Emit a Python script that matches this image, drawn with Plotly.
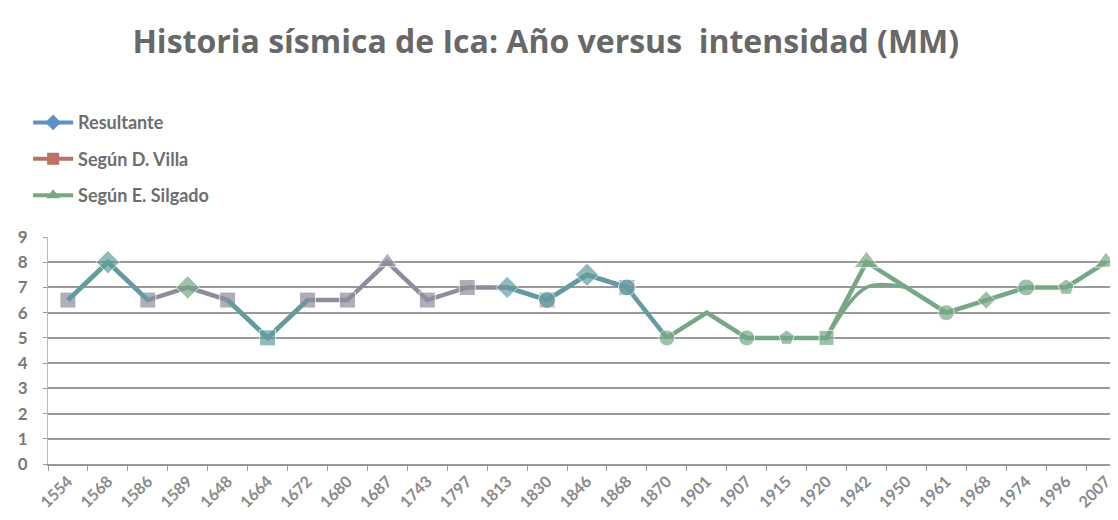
import plotly.graph_objects as go

years = ["1554", "1568", "1586", "1589", "1648", "1664", "1672", "1680", "1687", "1743",
         "1797", "1813", "1830", "1846", "1868", "1870", "1901", "1907", "1915", "1920",
         "1942", "1950", "1961", "1968", "1974", "1996", "2007"]
N = None
# Según D. Villa (early record)
villa = [6.5, 8, 6.5, 7, 6.5, 5, 6.5, 6.5, 8, 6.5, 7, 7, 6.5, 7.5, 7,
         N, N, N, N, N, N, N, N, N, N, N, N]
# Resultante (segments visible in the picture)
resultante = [6.5, 8, 6.5, N, 6.5, 5, 6.5, N, N, N, N, 7, 6.5, 7.5, 7, 5,
              N, N, N, N, N, N, N, N, N, N, N]
# Según E. Silgado
silgado = [N, N, N, 7, N, N, N, N, N, N, N, N, N, N, N,
           5, 6, 5, 5, 5, 8, 7, 6, 6.5, 7, 7, 8]
silgado_alt = [N] * 19 + [5, 7, 7] + [N] * 5
y_ticks = [0, 1, 2, 3, 4, 5, 6, 7, 8, 9]

c_res, c_vil, c_sil = "#629ca0", "#8c8d9d", "#76a886"
leg_res, leg_vil, leg_sil = "#5b93c6", "#bb7264", "#7aaa7c"

villa_sym = ["square", "diamond", "square", "diamond", "square", "square", "square", "square",
             "triangle-up", "square", "square", "diamond", "square", "diamond", "square"] + ["square"] * 12
villa_size = [16, 0, 16, 0, 16, 0, 16, 16, 18, 16, 16, 0, 16, 0, 16] + [0] * 12
res_sym = ["diamond", "diamond", "diamond", "diamond", "diamond", "square", "diamond"] + ["diamond"] * 4 + \
          ["diamond", "circle", "diamond", "circle", "circle"] + ["diamond"] * 11
res_size = [0, 18, 0, 0, 0, 16, 0, 0, 0, 0, 0, 17, 17, 18, 17, 0] + [0] * 11
sil_sym = ["diamond"] * 15 + ["circle", "triangle-up", "circle", "pentagon", "square", "triangle-up",
                              "circle", "circle", "diamond", "circle", "pentagon", "triangle-up"]
sil_size = [0, 0, 0, 18, 0, 0, 0, 0, 0, 0, 0, 0, 0, 0, 0,
            16, 0, 16, 16, 15, 22, 0, 16, 14, 17, 17, 20]

fig = go.Figure()
fig.add_trace(go.Scatter(x=years, y=villa, mode="lines+markers", showlegend=False,
                         line=dict(color=c_vil, width=4.5),
                         marker=dict(symbol=villa_sym, size=villa_size, color=c_vil)))
fig.add_trace(go.Scatter(x=years, y=resultante, mode="lines+markers", showlegend=False,
                         line=dict(color=c_res, width=4.5),
                         marker=dict(symbol=res_sym, size=res_size, color=c_res)))
fig.add_trace(go.Scatter(x=years, y=silgado_alt, mode="lines", showlegend=False,
                         line=dict(color=c_sil, width=3.5, shape="spline")))
fig.add_trace(go.Scatter(x=years, y=silgado, mode="lines+markers", showlegend=False,
                         line=dict(color=c_sil, width=4.5),
                         marker=dict(symbol=sil_sym, size=sil_size, color=c_sil)))

# legend entries
for name, col, sym, grp in [("<b>Resultante</b>", leg_res, "diamond", "a"),
                            ("<b>Según D. Villa</b>", leg_vil, "square", "b"),
                            ("<b>Según E. Silgado</b>", leg_sil, "triangle-up", "c")]:
    fig.add_trace(go.Scatter(x=[None], y=[None], mode="lines+markers", name=name, legendgroup=grp,
                             line=dict(color=col, width=4), marker=dict(symbol=sym, size=12, color=col)))

fig.update_layout(
    width=1118, height=520,
    paper_bgcolor="white", plot_bgcolor="white",
    margin=dict(l=40, r=0, t=229, b=64, autoexpand=False),
    title=dict(text="<b>Historia sísmica de Ica: Año versus  intensidad (MM)</b>",
               x=0.481, xanchor="center", y=0.935, yanchor="middle",
               font=dict(family="Open Sans, Lato, sans-serif", size=32, color="#686868")),
    legend=dict(xref="container", yref="container", x=0.018, y=0.815, xanchor="left", yanchor="top",
                font=dict(family="Lato, Open Sans, sans-serif", size=18, color="#6e6e6e"),
                tracegroupgap=10, bgcolor="rgba(0,0,0,0)", itemwidth=40),
    font=dict(family="Lato, Open Sans, sans-serif"),
)
fig.update_xaxes(type="category", range=[-0.5, 26.5], tickangle=-45, tickson="boundaries",
                 ticks="outside", ticklen=5, tickcolor="#999999", showline=True, linecolor="#999999",
                 linewidth=1.5, showgrid=False,
                 tickprefix="<b>", ticksuffix="</b>",
                 tickfont=dict(family="Lato, Open Sans, sans-serif", size=16, color="#8a8a8a"))
fig.update_yaxes(range=[0, 9], tickvals=y_ticks, showgrid=True, gridcolor="#9a9a9a", gridwidth=1.5,
                 zeroline=False, showline=True, linecolor="#bbbbbb", linewidth=1, ticks="outside",
                 ticklen=4, tickcolor="#999999", ticklabelstandoff=12,
                 tickfont=dict(family="Lato, Open Sans, sans-serif", size=17, color="#7a7a7a",
                               weight="bold"))

fig.write_html("out.html")
